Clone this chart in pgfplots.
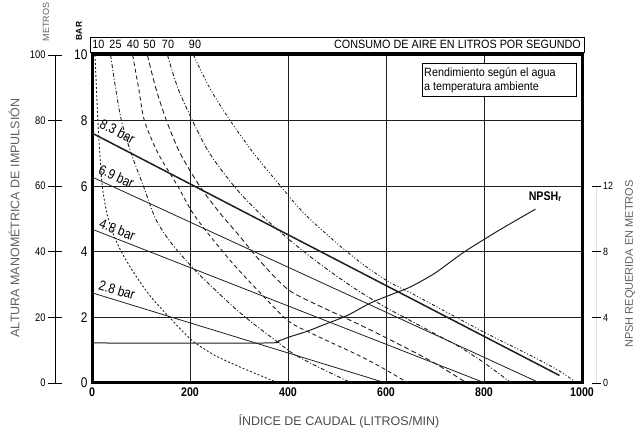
\documentclass[border=0pt]{standalone}
\usepackage{pgfplots}
\pgfplotsset{compat=1.18}
\usepackage{fontspec}
\setmainfont{Liberation Sans}
\newfontfamily\cond[FakeStretch=0.85]{Liberation Sans}
\newfontfamily\condb[FakeStretch=0.9]{Liberation Sans}
\definecolor{lbl}{gray}{0.38}
\definecolor{ln}{gray}{0.12}
\begin{document}
\begin{tikzpicture}[x=1pt,y=1pt]
\path[use as bounding box] (0,0) rectangle (642,430);
% ---------- metros axis (left) ----------
\begin{axis}[at={(55pt,47pt)}, anchor=south west, scale only axis,
  width=10pt, height=328pt,
  xmin=0, xmax=1, ymin=0, ymax=100,
  hide x axis, axis y line*=left,
  ytick={0,20,40,60,80,100},
  y axis line style={line width=0.7pt},
  major tick length=14pt, tick align=center,
  ytick style={line width=0.7pt, black},
  /pgf/number format/assume math mode=true,
  yticklabel style={font=\cond\fontsize{11}{11}\selectfont, xshift=1pt}]
\end{axis}
% ---------- NPSH axis (right) ----------
\begin{axis}[at={(586pt,47pt)}, anchor=south west, scale only axis,
  width=10pt, height=328pt,
  xmin=0, xmax=1, ymin=0, ymax=20,
  hide x axis, axis y line*=right,
  ytick={0,4,8,12},
  y axis line style={draw=none},
  major tick length=9pt, tick align=center,
  ytick style={line width=0.6pt, black},
  /pgf/number format/assume math mode=true,
  yticklabel style={font=\cond\fontsize{10.5}{11}\selectfont, xshift=-1pt}]
\draw[line width=0.6pt] (axis cs:1,0) -- (axis cs:1,12);
\end{axis}
% ---------- main axis ----------
\begin{axis}[at={(92pt,47pt)}, anchor=south west, scale only axis,
  width=490pt, height=328pt,
  xmin=0, xmax=1000, ymin=0, ymax=10,
  xtick={0,200,400,600,800,1000}, ytick={0,2,4,6,8,10},
  grid=major, grid style={ln, line width=0.7pt},
  axis line style={line width=3pt, black},
  major tick length=0pt,
  /pgf/number format/assume math mode=true,
  /pgf/number format/1000 sep={},
  xticklabel style={font=\cond\bfseries\fontsize{12.5}{13}\selectfont, yshift=-1pt},
  yticklabel style={font=\cond\fontsize{14}{14}\selectfont, xshift=-1pt},
  clip=false]
% pressure lines
\addplot[ln, line width=1.5pt] coordinates {(0,7.62) (954,0.23)};
\addplot[ln, line width=0.8pt] coordinates {(0,6.28) (914,0)};
\addplot[ln, line width=0.8pt] coordinates {(0,4.69) (802,0)};
\addplot[ln, line width=0.8pt] coordinates {(0,2.75) (600,0)};
% air consumption curves
\addplot[ln, line width=0.9pt, smooth, dash pattern=on 2pt off 2pt] coordinates {
 (6,10) (9,9) (12,8) (16,7) (21,6) (30,5.2) (42,4.6) (60,4.0) (88,3.3) (120,2.63)
 (160,1.97) (204,1.3) (250,0.85) (300,0.5) (340,0.25) (380,0)};
\addplot[ln, line width=0.9pt, smooth, dash pattern=on 4pt off 2pt on 1pt off 2pt] coordinates {
 (38,10) (48,9) (60,8) (80,7) (105,6) (130,5) (160,4.3) (200,3.6) (240,3.0) (290,2.3)
 (330,1.8) (370,1.35) (410,0.9) (460,0.5) (530,0)};
\addplot[ln, line width=0.9pt, smooth, dash pattern=on 4pt off 3pt] coordinates {
 (83,10) (95,9) (107,8) (135,7) (175,6) (205,5.2) (240,4.5) (290,3.6) (340,2.8)
 (400,1.9) (450,1.5) (500,1.15) (550,0.8) (600,0.4) (645,0)};
\addplot[ln, line width=0.9pt, smooth, dash pattern=on 5pt off 3pt] coordinates {
 (113,10) (130,9) (152,8) (180,7) (220,6) (260,5.2) (300,4.5) (350,3.6) (400,2.85)
 (450,2.45) (500,2.1) (550,1.75) (600,1.38) (650,1.0) (700,0.6) (765,0)};
\addplot[ln, line width=0.9pt, smooth, dash pattern=on 4pt off 2pt on 1pt off 2pt] coordinates {
 (154,10) (175,9) (205,8) (240,7) (290,6) (340,5.2) (400,4.4) (450,3.8) (500,3.25)
 (550,2.75) (600,2.3) (650,1.9) (700,1.5) (750,1.1) (800,0.62) (856,0)};
\addplot[ln, line width=0.9pt, smooth, dash pattern=on 3pt off 2pt on 1pt off 2pt on 1pt off 2pt] coordinates {
 (207,10) (240,9) (282,8) (330,7) (385,6) (431,5.2) (492,4.36) (550,3.65) (605,3.09)
 (650,2.75) (700,2.35) (800,1.55) (900,0.8) (950,0.4) (990,0)};
% NPSH curve (in bar units: 1 bar-unit = 2 m)
\addplot[ln, line width=1pt, smooth, tension=0.4] coordinates {
 (0,1.22) (355,1.22) (380,1.28) (404,1.41) (440,1.58) (472,1.77) (520,2.05) (567,2.43)
 (608,2.68) (650,2.93) (700,3.35) (760,4.0) (830,4.65) (905,5.3)};
% labels
\node[font=\cond\fontsize{14}{14}\selectfont, rotate=-27, inner sep=0pt] at (axis cs:52,7.67) {8.3 bar};
\node[font=\cond\fontsize{14}{14}\selectfont, rotate=-24.7, inner sep=0pt] at (axis cs:50,6.3) {6.9 bar};
\node[font=\cond\fontsize{14}{14}\selectfont, rotate=-21.4, inner sep=0pt] at (axis cs:52,4.68) {4.8 bar};
\node[font=\cond\fontsize{14}{14}\selectfont, rotate=-17, inner sep=0pt] at (axis cs:51,2.84) {2.8 bar};
\node[font=\cond\bfseries\fontsize{12.5}{13}\selectfont] at (axis cs:925,5.68) {NPSH\textsubscript{r}};
\end{axis}
% ---------- top box ----------
\draw[line width=0.6pt] (90,378) rectangle (584,393);
\begin{scope}[font=\condb\fontsize{12}{12}\selectfont]
\node at (98.5,385.5) {10};
\node at (115.5,385.5) {25};
\node at (133,385.5) {40};
\node at (149.5,385.5) {50};
\node at (168,385.5) {70};
\node at (195,385.5) {90};
\node[anchor=east, inner sep=1pt] at (582,385.5) {CONSUMO DE AIRE EN LITROS POR SEGUNDO};
\end{scope}
% ---------- legend box ----------
\draw[line width=0.6pt, fill=white] (422,334) rectangle (576,367);
\node[anchor=west, inner sep=1pt, font=\condb\fontsize{12}{12}\selectfont] at (423,357) {Rendimiento según el agua};
\node[anchor=west, inner sep=1pt, font=\condb\fontsize{12}{12}\selectfont] at (423,343) {a temperatura ambiente};
% ---------- axis titles ----------
\node[rotate=90, text=lbl, font=\fontsize{12.5}{13}\selectfont] at (14,212) {ALTURA MANOMÉTRICA DE IMPULSIÓN};
\node[rotate=90, text=lbl, font=\fontsize{11}{11}\selectfont] at (630,166) {NPSH REQUERIDA EN METROS};
\node[text=ln!80!white, font=\fontsize{12.5}{13}\selectfont] at (339,9) {ÍNDICE DE CAUDAL (LITROS/MIN)};
\node[rotate=90, text=lbl, font=\fontsize{9}{9}\selectfont] at (46,408) {METROS};
\node[rotate=90, font=\bfseries\fontsize{8.5}{9}\selectfont] at (79,399) {BAR};
\end{tikzpicture}
\end{document}
